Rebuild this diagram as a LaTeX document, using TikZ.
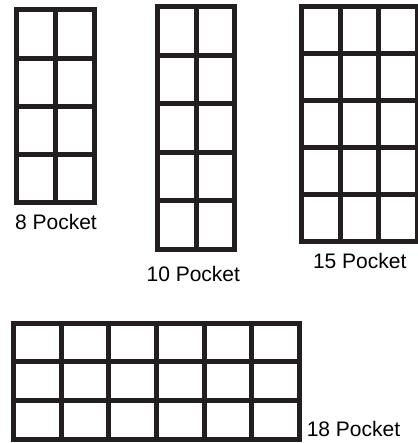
\documentclass[tikz,border=0pt]{standalone}
\usepackage{fontspec}
\setmainfont{Liberation Sans}
\usetikzlibrary{calc}

\definecolor{pocketline}{HTML}{231F20}

\begin{document}
\begin{tikzpicture}[x=1pt, y=-1pt]
    \useasboundingbox (0,0) rectangle (417,443);

    % Pocket grids: left/top/right/bottom (line centres), columns, rows
    \foreach \xa/\ya/\xb/\yb/\nc/\nr in {16.5/10/94.5/202.5/2/4, 157.5/7/234.5/249.5/2/5, 301.5/7/417.5/241.5/3/5, 13.5/323.2/299.5/439.2/6/3} {
        \draw[pocketline, line width=5pt] (\xa,\ya) rectangle (\xb,\yb);
        \foreach \c in {1,...,\nc} {
            \pgfmathsetmacro{\cx}{\xa+\c*(\xb-\xa)/\nc}
            \draw[pocketline, line width=5pt] (\cx,\ya) -- (\cx,\yb);
        }
        \foreach \r in {1,...,\nr} {
            \pgfmathsetmacro{\ry}{\ya+\r*(\yb-\ya)/\nr}
            \draw[pocketline, line width=5pt] (\xa,\ry) -- (\xb,\ry);
        }
    }

    % Labels
    \node[font=\fontsize{21}{25}\selectfont, anchor=base, inner sep=0pt] (eight) at (56,229) {8 Pocket};
    \node[font=\fontsize{21}{25}\selectfont, anchor=base, inner sep=0pt] (ten) at (193.3,281) {10 Pocket};
    \node[font=\fontsize{21}{25}\selectfont, anchor=base, inner sep=0pt] (fifteen) at (359.7,268) {15 Pocket};
    \node[font=\fontsize{21}{25}\selectfont, anchor=base, inner sep=0pt] (eighteen) at (353.5,436.7) {18 Pocket};

\end{tikzpicture}
\end{document}
